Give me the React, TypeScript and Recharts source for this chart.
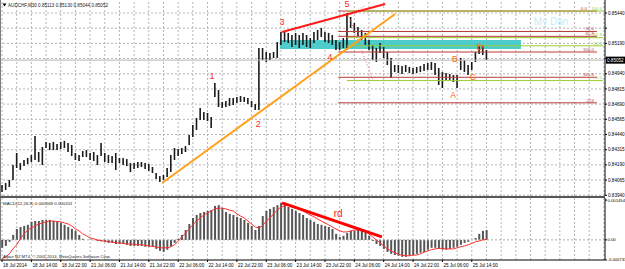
import React from 'react';
import {
  ComposedChart, Bar, Line, XAxis, YAxis,
  ReferenceLine, ReferenceArea, ReferenceDot,
} from 'recharts';

// ---------- price bars (hourly high / low) ----------
const highs = [
  0.84025, 0.84041, 0.84066, 0.84189, 0.84288, 0.84205, 0.84230, 0.84247, 0.84271, 0.84428,
  0.84296, 0.84337, 0.84379, 0.84370, 0.84379, 0.84362, 0.84379, 0.84387, 0.84370, 0.84354,
  0.84288, 0.84271, 0.84304, 0.84312, 0.84288, 0.84296, 0.84271, 0.84370, 0.84288, 0.84271,
  0.84263, 0.84288, 0.84247, 0.84247, 0.84238, 0.84205, 0.84205, 0.84214, 0.84214, 0.84205,
  0.84197, 0.84173, 0.84123, 0.84098, 0.84107, 0.84164, 0.84271, 0.84329, 0.84321, 0.84329,
  0.84345, 0.84436, 0.84518, 0.84576, 0.84658, 0.84625, 0.84617, 0.84584, 0.84864, 0.84806,
  0.84708, 0.84716, 0.84740, 0.84740, 0.84749, 0.84757, 0.84749, 0.84740, 0.84716, 0.84691,
  0.85152, 0.85152, 0.85119, 0.85111, 0.85119, 0.85201, 0.85284, 0.85284, 0.85276, 0.85259,
  0.85276, 0.85259, 0.85276, 0.85259, 0.85234, 0.85284, 0.85300, 0.85317, 0.85284, 0.85276,
  0.85259, 0.85218, 0.85201, 0.85234, 0.85440, 0.85407, 0.85358, 0.85325, 0.85300, 0.85276,
  0.85218, 0.85177, 0.85152, 0.85193, 0.85160, 0.85119, 0.85070, 0.85012, 0.85012, 0.85004,
  0.85012, 0.84996, 0.84987, 0.84996, 0.85004, 0.85020, 0.85029, 0.85037, 0.85029, 0.84987,
  0.84954, 0.84946, 0.84938, 0.84930, 0.84930, 0.85070, 0.85053, 0.85012, 0.85037, 0.85119,
  0.85168, 0.85177, 0.85136,
];
const lows = [
  0.83967, 0.83983, 0.84008, 0.84066, 0.84164, 0.84148, 0.84181, 0.84197, 0.84214, 0.84230,
  0.84214, 0.84189, 0.84329, 0.84312, 0.84312, 0.84312, 0.84321, 0.84329, 0.84296, 0.84263,
  0.84230, 0.84222, 0.84255, 0.84255, 0.84230, 0.84222, 0.84189, 0.84263, 0.84214, 0.84205,
  0.84205, 0.84148, 0.84205, 0.84189, 0.84181, 0.84131, 0.84156, 0.84164, 0.84173, 0.84156,
  0.84140, 0.84123, 0.84074, 0.84049, 0.84066, 0.84090, 0.84131, 0.84230, 0.84263, 0.84280,
  0.84296, 0.84354, 0.84420, 0.84477, 0.84559, 0.84559, 0.84551, 0.84494, 0.84749, 0.84666,
  0.84658, 0.84666, 0.84675, 0.84683, 0.84699, 0.84708, 0.84708, 0.84691, 0.84666, 0.84642,
  0.84642, 0.85053, 0.85037, 0.85053, 0.85070, 0.85070, 0.85177, 0.85201, 0.85193, 0.85160,
  0.85177, 0.85152, 0.85177, 0.85160, 0.85152, 0.85193, 0.85218, 0.85243, 0.85201, 0.85193,
  0.85177, 0.85136, 0.85136, 0.85152, 0.85136, 0.85317, 0.85276, 0.85251, 0.85218, 0.85177,
  0.85136, 0.85053, 0.85037, 0.85111, 0.85070, 0.85012, 0.84905, 0.84954, 0.84946, 0.84938,
  0.84954, 0.84946, 0.84938, 0.84946, 0.84954, 0.84963, 0.84971, 0.84971, 0.84930, 0.84847,
  0.84823, 0.84889, 0.84889, 0.84872, 0.84823, 0.84971, 0.84954, 0.84930, 0.84971, 0.85037,
  0.85103, 0.85094, 0.85053,
];

// ---------- MACD(12,26,9) ----------
const macdHist = [
  -0.00029, -0.00022, -0.00007, 0.00018, 0.00040, 0.00047, 0.00051, 0.00055, 0.00066, 0.00069,
  0.00069, 0.00073, 0.00073, 0.00073, 0.00069, 0.00066, 0.00062, 0.00055, 0.00047, 0.00040,
  0.00033, 0.00018, 0.00004, 0.00000, 0.00001, -0.00001, -0.00004, -0.00004, -0.00007, -0.00011,
  -0.00011, -0.00015, -0.00015, -0.00015, -0.00018, -0.00022, -0.00022, -0.00022, -0.00022, -0.00025,
  -0.00025, -0.00025, -0.00033, -0.00040, -0.00044, -0.00036, -0.00025, -0.00011, 0.00004, 0.00018,
  0.00036, 0.00058, 0.00080, 0.00091, 0.00098, 0.00102, 0.00106, 0.00109, 0.00124, 0.00127,
  0.00116, 0.00102, 0.00095, 0.00091, 0.00084, 0.00080, 0.00073, 0.00062, 0.00051, 0.00036,
  0.00051, 0.00087, 0.00106, 0.00113, 0.00120, 0.00127, 0.00135, 0.00131, 0.00120, 0.00113,
  0.00106, 0.00098, 0.00091, 0.00080, 0.00073, 0.00066, 0.00058, 0.00055, 0.00051, 0.00047,
  0.00040, 0.00022, 0.00011, 0.00015, 0.00025, 0.00033, 0.00033, 0.00040, 0.00040, 0.00033,
  0.00015, -0.00004, -0.00015, -0.00022, -0.00033, -0.00044, -0.00051, -0.00055, -0.00058, -0.00062,
  -0.00062, -0.00058, -0.00055, -0.00051, -0.00047, -0.00044, -0.00036, -0.00029, -0.00029, -0.00033,
  -0.00036, -0.00036, -0.00033, -0.00029, -0.00025, -0.00018, -0.00011, -0.00007, 0.00000, 0.00007,
  0.00022, 0.00033, 0.00036,
];
const macdSignal = [
  -0.00070, -0.00062, -0.00051, -0.00033, -0.00018, 0.00004, 0.00022, 0.00036, 0.00044, 0.00051,
  0.00058, 0.00062, 0.00066, 0.00069, 0.00069, 0.00067, 0.00066, 0.00062, 0.00058, 0.00051,
  0.00040, 0.00033, 0.00022, 0.00015, 0.00007, 0.00004, 0.00000, -0.00004, -0.00004, -0.00007,
  -0.00007, -0.00011, -0.00011, -0.00013, -0.00015, -0.00015, -0.00016, -0.00018, -0.00018, -0.00020,
  -0.00022, -0.00024, -0.00025, -0.00029, -0.00029, -0.00029, -0.00025, -0.00018, -0.00004, 0.00011,
  0.00025, 0.00040, 0.00055, 0.00069, 0.00080, 0.00091, 0.00098, 0.00106, 0.00113, 0.00116,
  0.00116, 0.00113, 0.00109, 0.00106, 0.00095, 0.00087, 0.00080, 0.00069, 0.00058, 0.00047,
  0.00044, 0.00051, 0.00069, 0.00080, 0.00095, 0.00109, 0.00120, 0.00124, 0.00127, 0.00126,
  0.00120, 0.00113, 0.00106, 0.00098, 0.00091, 0.00084, 0.00076, 0.00069, 0.00062, 0.00055,
  0.00047, 0.00040, 0.00033, 0.00029, 0.00029, 0.00033, 0.00036, 0.00036, 0.00036, 0.00033,
  0.00022, 0.00011, 0.00000, -0.00011, -0.00022, -0.00033, -0.00040, -0.00047, -0.00053, -0.00056,
  -0.00058, -0.00058, -0.00056, -0.00055, -0.00051, -0.00045, -0.00040, -0.00036, -0.00033, -0.00031,
  -0.00031, -0.00033, -0.00033, -0.00033, -0.00029, -0.00025, -0.00022, -0.00018, -0.00013, -0.00007,
  -0.00004, 0.00000, 0.00002,
];

// ---------- axes ----------
const gridHours = [
  0, 4, 8, 12, 16, 20, 24, 28, 32, 36, 40, 44, 48, 52, 56, 60, 64, 68, 72, 76, 80,
  84, 88, 92, 96, 100, 104, 108, 112, 116, 120, 124, 128, 132, 136, 140, 144, 148, 152, 156, 160, 164,
];
const labelHours = [0, 8, 16, 24, 32, 40, 48, 56, 64, 72, 80, 88, 96, 104, 112, 120, 128];
const timeLabels = [
  '18 Jul 2014', '18 Jul 14:00', '18 Jul 22:00', '21 Jul 06:00', '21 Jul 14:00', '21 Jul 22:00',
  '22 Jul 06:00', '22 Jul 14:00', '22 Jul 22:00', '23 Jul 06:00', '23 Jul 14:00', '23 Jul 22:00',
  '24 Jul 06:00', '24 Jul 14:00', '24 Jul 22:00', '25 Jul 06:00', '25 Jul 14:00',
];
const priceTicks = [
  0.85440, 0.85315, 0.85190, 0.85065, 0.84940, 0.84815, 0.84690,
  0.84565, 0.84440, 0.84315, 0.84190, 0.84065, 0.83940,
];
const hiddenPriceLabels = [0.85315, 0.85065];
const macdTicks = [0.001454, 0, -0.000733];
const macdTickLabels = ['0.001454', '0.00', '-0.000733'];
const lastClose = 0.85052;
const headerText = 'AUDCHF,M30  0.85113 0.85130 0.85044 0.85052';
const macdTitle = 'MACD(12,26,9) 0.000569 0.000201';
const copyright = 'Alpari NZ MT4, \u00a9 2001-2014, MetaQuotes Software Corp.';

// ---------- drawn objects (hour index, price) ----------
const wedgeLine = [[76.3, 0.85284], [104.4, 0.85514]];
const trendLine = [[43.6, 0.84041], [107.1, 0.85432]];
const supplyZone = { h1: 75.7, h2: 141.4, p1: 0.85218, p2: 0.85144 };
const redFibSpan = [91.6, 162.1];
const redFibLevels = [0.85288, 0.85248, 0.85119, 0.84911, 0.84701];
const redFibLabels = ['50.0', '61.8', '100.0', '161.8', '224'];
const redFibTop = 0.85456;
const greenFibSpan = [94, 163.8];
const greenFibLevels = [0.85456, 0.85237, 0.85170, 0.84884];
const greenFibLabels = ['100.0', '61.8', '50.0', '0.0'];
const fibDiagonals = [
  [[94, 0.85456], [101.1, 0.84884]],
  [[94.3, 0.85415], [99.2, 0.85506]],
];
const waveLabels = [
  { t: '1', h: 57.2, p: 0.84922 },
  { t: '2', h: 69.8, p: 0.84526 },
  { t: '3', h: 76.3, p: 0.85366 },
  { t: '4', h: 89.4, p: 0.85078 },
  { t: '5', h: 94.0, p: 0.85514 },
];
const abcdLabels = [
  { t: 'A', h: 122.9, p: 0.84765 },
  { t: 'B', h: 123.4, p: 0.85061 },
  { t: 'C', h: 128.3, p: 0.84913 },
  { t: 'D', h: 130.2, p: 0.85160 },
];
const noteText = { t: 'My Dan', h: 149.6, p: 0.85374 };
const divergenceLine = [[76.3, 0.00135], [103.5, 0.00011]];
const divergenceLabel = { t: 'rd', h: 91.6, p: 0.00098 };

const data = highs.map((hi, i) => ({
  h: i,
  range: [lows[i], hi],
  hist: macdHist[i],
  signal: macdSignal[i],
}));

const FONT = 'Liberation Sans, Arial, sans-serif';
const XDOMAIN: [number, number] = [-0.55, 164.3];
const FIB_RED = '#b83a3a';
const FIB_GREEN = '#9acd32';
const GRID = '#b4b4b4';

const PriceTick = (props: any) => {
  const { x, y, payload } = props;
  const hidden = hiddenPriceLabels.includes(payload.value);
  return (
    <g>
      <line x1={x - 3} x2={x - 1} y1={y} y2={y} stroke="#000" />
      {!hidden && (
        <text x={x} y={y + 1.6} fontSize={4.6} fontFamily={FONT} fill="#000">
          {payload.value.toFixed(5)}
        </text>
      )}
    </g>
  );
};

const MacdTick = (props: any) => {
  const { x, y, payload } = props;
  const idx = macdTicks.indexOf(payload.value);
  return (
    <g>
      <line x1={x - 3} x2={x - 1} y1={y} y2={y} stroke="#000" />
      <text x={x - 0.5} y={y + 1.5} fontSize={4.2} fontFamily={FONT} fill="#000">
        {macdTickLabels[idx]}
      </text>
    </g>
  );
};

const TimeTick = (props: any) => {
  const { x, y, payload } = props;
  const idx = labelHours.indexOf(payload.value);
  if (idx < 0) return <g />;
  return (
    <g>
      <line x1={x} x2={x} y1={y} y2={y + 2} stroke="#000" />
      <text x={x + 1} y={y + 7} fontSize={4.6} fontFamily={FONT} fill="#000">
        {timeLabels[idx]}
      </text>
    </g>
  );
};

const PriceBox = (props: any) => {
  const vb = props.viewBox || {};
  const x = (vb.x || 0) + (vb.width || 0) + 1;
  const y = vb.y || 0;
  return (
    <g>
      <rect x={x} y={y - 3.5} width={19} height={7} fill="#000" />
      <text x={x + 1} y={y + 1.7} fontSize={4.6} fontFamily={FONT} fill="#fff">
        {lastClose.toFixed(5)}
      </text>
    </g>
  );
};

const textLabel = (value: string, fill: string, fontSize: number) => ({
  value, position: 'center' as const, fill, fontSize, fontFamily: FONT,
});

const FibTag = (text: string, fill: string, dx: number) => (props: any) => {
  const vb = props.viewBox || {};
  const x2 = (vb.x || 0) + (vb.width || 0);
  const y = vb.y || 0;
  return (
    <text x={x2 + dx} y={y - 1.2} fontSize={4.4} fontFamily={FONT} fill={fill} textAnchor="end">
      {text}
    </text>
  );
};

const gridV = (prefix: string) =>
  gridHours.map((h) => (
    <ReferenceLine key={prefix + h} x={h} stroke={GRID} strokeDasharray="2 2" strokeWidth={1} zIndex={-100} />
  ));

export default function App() {
  return (
    <div style={{ position: 'absolute', left: 0, top: 0, width: 625, height: 269, background: '#fff', overflow: 'hidden' }}>
      <div style={{ position: 'absolute', left: 0, top: 0 }}>
        <ComposedChart width={625} height={198} data={data} margin={{ top: 0, right: 0, bottom: 2, left: 0 }}>
          <XAxis type="number" dataKey="h" domain={XDOMAIN} ticks={gridHours} interval={0}
            height={0} tick={false} axisLine={false} tickLine={false} allowDataOverflow />
          <YAxis orientation="right" width={20} domain={[0.83934, 0.85547]} ticks={priceTicks}
            interval={0} allowDataOverflow tick={<PriceTick />} tickLine={false} tickSize={2} tickMargin={1}
            axisLine={{ stroke: '#000' }} />
          {gridV('gv')}
          {priceTicks.map((p) => (
            <ReferenceLine key={'gh' + p} y={p} stroke={GRID} strokeDasharray="2 2" strokeWidth={1} zIndex={-100} />
          ))}
          <ReferenceArea x1={supplyZone.h1} x2={supplyZone.h2} y1={supplyZone.p2} y2={supplyZone.p1}
            fill="#3cc8c8" fillOpacity={0.9} stroke="none" ifOverflow="visible" zIndex={-50} />
          <ReferenceLine y={lastClose} stroke="#b8b8b8" strokeWidth={1} label={<PriceBox />} />
          {redFibLevels.map((p, i) => (
            <ReferenceLine key={'rf' + i} segment={[{ x: redFibSpan[0], y: p }, { x: redFibSpan[1], y: p }]}
              stroke={FIB_RED} strokeWidth={1} label={FibTag(redFibLabels[i], FIB_RED, -3)} />
          ))}
          <ReferenceLine segment={[{ x: redFibSpan[0], y: redFibTop }, { x: redFibSpan[1], y: redFibTop }]}
            stroke={FIB_RED} strokeWidth={1} label={FibTag('0.0', FIB_RED, -10)} />
          {greenFibLevels.map((p, i) => (
            <ReferenceLine key={'gf' + i} segment={[{ x: greenFibSpan[0], y: p }, { x: greenFibSpan[1], y: p }]}
              stroke={FIB_GREEN} strokeWidth={1} label={FibTag(greenFibLabels[i], FIB_GREEN, -1)} />
          ))}
          {fibDiagonals.map((s, i) => (
            <ReferenceLine key={'fd' + i} segment={[{ x: s[0][0], y: s[0][1] }, { x: s[1][0], y: s[1][1] }]}
              stroke="#ff6a6a" strokeWidth={1} strokeDasharray="1 2" />
          ))}
          <Bar dataKey="range" barSize={1.6} fill="#1a1a1a" isAnimationActive={false} zIndex={300} />
          <ReferenceLine segment={[{ x: trendLine[0][0], y: trendLine[0][1] }, { x: trendLine[1][0], y: trendLine[1][1] }]}
            stroke="#ffa21a" strokeWidth={2} />
          <ReferenceLine segment={[{ x: wedgeLine[0][0], y: wedgeLine[0][1] }, { x: wedgeLine[1][0], y: wedgeLine[1][1] }]}
            stroke="#ff1a1a" strokeWidth={2} />
          {waveLabels.map((l) => (
            <ReferenceDot key={'w' + l.t} x={l.h} y={l.p} r={0} fill="none" stroke="none"
              label={textLabel(l.t, '#ff2a2a', 9)} />
          ))}
          {abcdLabels.map((l) => (
            <ReferenceDot key={'a' + l.t} x={l.h} y={l.p} r={0} fill="none" stroke="none"
              label={textLabel(l.t, '#ff6a10', 8.5)} />
          ))}
          <ReferenceDot x={noteText.h} y={noteText.p} r={0} fill="none" stroke="none"
            label={textLabel(noteText.t, '#c4eef8', 10)} />
        </ComposedChart>
      </div>
      <div style={{ position: 'absolute', left: 0, top: 196 }}>
        <ComposedChart width={625} height={73} data={data} margin={{ top: 2, right: 0, bottom: 0, left: 0 }}>
          <XAxis type="number" dataKey="h" domain={XDOMAIN} ticks={gridHours} interval={0}
            height={9} tick={<TimeTick />} tickLine={false} tickSize={0} tickMargin={0}
            axisLine={{ stroke: '#000' }} allowDataOverflow />
          <YAxis orientation="right" width={20} domain={[-0.000735, 0.00153]} ticks={macdTicks}
            interval={0} allowDataOverflow tick={<MacdTick />} tickLine={false} tickSize={2} tickMargin={1}
            axisLine={{ stroke: '#000' }} />
          {gridV('mv')}
          <ReferenceLine y={0} stroke="#a8a8a8" strokeDasharray="2 2" />
          <Bar dataKey="hist" barSize={2} fill="#555555" isAnimationActive={false} />
          <Line dataKey="signal" type="linear" stroke="#ff3030" strokeWidth={1} dot={false} isAnimationActive={false} />
          <ReferenceLine segment={[{ x: divergenceLine[0][0], y: divergenceLine[0][1] }, { x: divergenceLine[1][0], y: divergenceLine[1][1] }]}
            stroke="#ff0000" strokeWidth={3} />
          <ReferenceDot x={divergenceLabel.h} y={divergenceLabel.p} r={0} fill="none" stroke="none"
            label={textLabel(divergenceLabel.t, '#ff2020', 10)} />
        </ComposedChart>
      </div>
      <svg width={625} height={269} style={{ position: 'absolute', left: 0, top: 0, pointerEvents: 'none' }}>
        <line x1={0.5} x2={0.5} y1={0} y2={260} stroke="#808080" />
        <rect x={0} y={196} width={605} height={2} fill="#585858" />
        <path d="M2.5 3.5 L6.5 3.5 L4.5 6.5 Z" fill="#000" />
        <text x={8} y={6.5} fontSize={4.6} fontFamily={FONT} fill="#222">{headerText}</text>
        <text x={3} y={205} fontSize={4.4} fontFamily={FONT} fill="#222">{macdTitle}</text>
        <text x={3} y={258} fontSize={4.2} fontFamily={FONT} fill="#222">{copyright}</text>
      </svg>
    </div>
  );
}
